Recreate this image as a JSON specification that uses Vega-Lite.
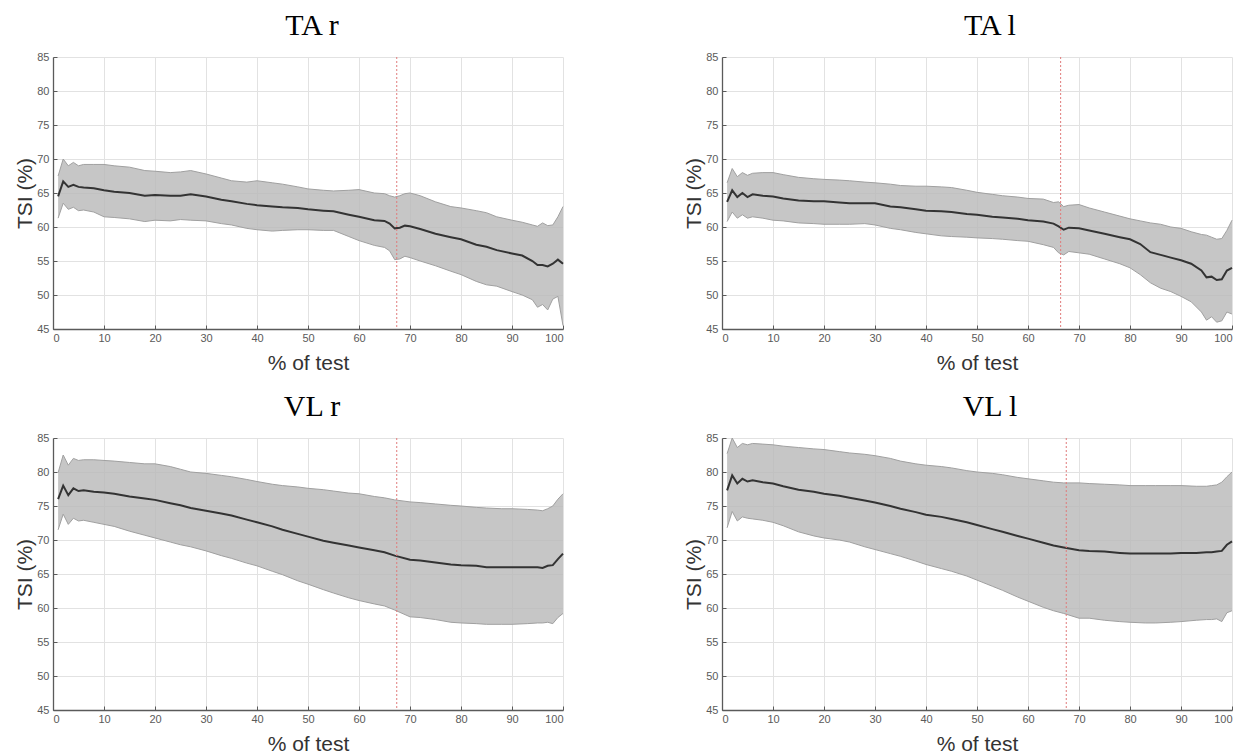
{
  "$schema": "https://vega.github.io/schema/vega-lite/v6.json",
  "background": "white",
  "padding": {"left": 14, "top": 11, "right": 5, "bottom": 5},
  "datasets": {
    "ta_r": [
      {"x":1,"m":64.5,"lo":61.3,"hi":67.5},{"x":2,"m":66.7,"lo":63.5,"hi":70.0},{"x":3,"m":65.9,"lo":62.6,"hi":69.0},{"x":4,"m":66.2,"lo":62.9,"hi":69.5},{"x":5,"m":65.9,"lo":62.4,"hi":69.0},{"x":6,"m":65.8,"lo":62.5,"hi":69.2},{"x":8,"m":65.7,"lo":62.2,"hi":69.2},{"x":10,"m":65.4,"lo":61.5,"hi":69.2},{"x":12,"m":65.2,"lo":61.4,"hi":69.0},{"x":15,"m":65.0,"lo":61.2,"hi":68.8},{"x":18,"m":64.6,"lo":60.8,"hi":68.3},{"x":20,"m":64.7,"lo":61.0,"hi":68.2},{"x":23,"m":64.6,"lo":60.9,"hi":68.0},{"x":25,"m":64.6,"lo":61.1,"hi":68.1},{"x":27,"m":64.8,"lo":61.0,"hi":68.3},{"x":30,"m":64.5,"lo":60.9,"hi":67.8},{"x":33,"m":64.0,"lo":60.5,"hi":67.2},{"x":35,"m":63.8,"lo":60.3,"hi":66.8},{"x":38,"m":63.4,"lo":59.8,"hi":66.6},{"x":40,"m":63.2,"lo":59.6,"hi":66.8},{"x":43,"m":63.0,"lo":59.4,"hi":66.5},{"x":45,"m":62.9,"lo":59.5,"hi":66.3},{"x":48,"m":62.8,"lo":59.6,"hi":65.9},{"x":50,"m":62.6,"lo":59.6,"hi":65.6},{"x":53,"m":62.4,"lo":59.5,"hi":65.4},{"x":55,"m":62.3,"lo":59.5,"hi":65.3},{"x":58,"m":61.8,"lo":58.6,"hi":65.4},{"x":60,"m":61.5,"lo":58.0,"hi":65.5},{"x":63,"m":61.0,"lo":57.3,"hi":65.0},{"x":65,"m":60.9,"lo":57.0,"hi":64.9},{"x":66,"m":60.5,"lo":56.5,"hi":64.6},{"x":67,"m":59.8,"lo":55.2,"hi":64.4},{"x":68,"m":59.9,"lo":55.3,"hi":64.6},{"x":69,"m":60.2,"lo":55.7,"hi":64.9},{"x":70,"m":60.1,"lo":55.5,"hi":65.0},{"x":72,"m":59.7,"lo":55.0,"hi":64.6},{"x":75,"m":59.0,"lo":54.3,"hi":63.7},{"x":78,"m":58.5,"lo":53.5,"hi":63.0},{"x":80,"m":58.2,"lo":53.0,"hi":62.8},{"x":83,"m":57.4,"lo":52.0,"hi":62.4},{"x":85,"m":57.1,"lo":51.5,"hi":62.1},{"x":87,"m":56.6,"lo":51.3,"hi":61.5},{"x":90,"m":56.1,"lo":50.5,"hi":61.0},{"x":92,"m":55.8,"lo":50.0,"hi":60.7},{"x":94,"m":55.0,"lo":49.3,"hi":60.3},{"x":95,"m":54.4,"lo":48.2,"hi":60.1},{"x":96,"m":54.4,"lo":48.6,"hi":60.6},{"x":97,"m":54.2,"lo":47.8,"hi":60.2},{"x":98,"m":54.6,"lo":49.4,"hi":60.3},{"x":99,"m":55.2,"lo":49.8,"hi":61.5},{"x":100,"m":54.6,"lo":45.5,"hi":63.0}
    ],
    "ta_l": [
      {"x":1,"m":63.7,"lo":60.8,"hi":66.5},{"x":2,"m":65.4,"lo":62.2,"hi":68.6},{"x":3,"m":64.4,"lo":61.3,"hi":67.4},{"x":4,"m":65.0,"lo":61.8,"hi":68.0},{"x":5,"m":64.4,"lo":61.3,"hi":67.6},{"x":6,"m":64.8,"lo":61.5,"hi":67.9},{"x":8,"m":64.6,"lo":61.3,"hi":68.0},{"x":10,"m":64.5,"lo":61.0,"hi":68.0},{"x":12,"m":64.2,"lo":60.9,"hi":67.7},{"x":15,"m":63.9,"lo":60.6,"hi":67.3},{"x":18,"m":63.8,"lo":60.5,"hi":67.1},{"x":20,"m":63.8,"lo":60.4,"hi":67.0},{"x":23,"m":63.6,"lo":60.4,"hi":66.9},{"x":25,"m":63.5,"lo":60.4,"hi":66.8},{"x":28,"m":63.5,"lo":60.5,"hi":66.6},{"x":30,"m":63.5,"lo":60.3,"hi":66.5},{"x":33,"m":63.0,"lo":59.8,"hi":66.3},{"x":35,"m":62.9,"lo":59.6,"hi":66.1},{"x":38,"m":62.6,"lo":59.2,"hi":66.0},{"x":40,"m":62.4,"lo":59.0,"hi":66.0},{"x":43,"m":62.3,"lo":58.7,"hi":65.9},{"x":45,"m":62.2,"lo":58.6,"hi":65.8},{"x":48,"m":61.9,"lo":58.5,"hi":65.4},{"x":50,"m":61.8,"lo":58.4,"hi":65.1},{"x":53,"m":61.5,"lo":58.3,"hi":64.8},{"x":55,"m":61.4,"lo":58.2,"hi":64.6},{"x":58,"m":61.2,"lo":58.0,"hi":64.4},{"x":60,"m":61.0,"lo":57.9,"hi":64.2},{"x":63,"m":60.8,"lo":57.4,"hi":64.1},{"x":65,"m":60.5,"lo":57.0,"hi":63.6},{"x":66,"m":60.1,"lo":56.2,"hi":63.7},{"x":67,"m":59.6,"lo":55.9,"hi":63.0},{"x":68,"m":59.9,"lo":56.4,"hi":63.2},{"x":70,"m":59.8,"lo":56.2,"hi":63.3},{"x":72,"m":59.5,"lo":56.0,"hi":62.8},{"x":75,"m":59.0,"lo":55.3,"hi":62.2},{"x":78,"m":58.5,"lo":54.6,"hi":61.6},{"x":80,"m":58.2,"lo":54.0,"hi":61.2},{"x":82,"m":57.5,"lo":53.0,"hi":60.9},{"x":84,"m":56.3,"lo":51.8,"hi":60.6},{"x":86,"m":55.9,"lo":51.0,"hi":60.4},{"x":88,"m":55.5,"lo":50.5,"hi":60.0},{"x":90,"m":55.1,"lo":49.8,"hi":59.8},{"x":92,"m":54.6,"lo":49.0,"hi":59.3},{"x":94,"m":53.6,"lo":47.5,"hi":58.9},{"x":95,"m":52.6,"lo":46.3,"hi":58.8},{"x":96,"m":52.7,"lo":46.8,"hi":58.5},{"x":97,"m":52.2,"lo":46.0,"hi":58.2},{"x":98,"m":52.3,"lo":46.2,"hi":58.3},{"x":99,"m":53.6,"lo":47.5,"hi":59.5},{"x":100,"m":54.0,"lo":47.2,"hi":61.0}
    ],
    "vl_r": [
      {"x":1,"m":76.0,"lo":71.5,"hi":79.9},{"x":2,"m":78.0,"lo":73.8,"hi":82.5},{"x":3,"m":76.6,"lo":72.3,"hi":81.0},{"x":4,"m":77.6,"lo":73.2,"hi":82.0},{"x":5,"m":77.2,"lo":72.8,"hi":81.7},{"x":6,"m":77.3,"lo":72.9,"hi":81.8},{"x":8,"m":77.1,"lo":72.6,"hi":81.8},{"x":10,"m":77.0,"lo":72.3,"hi":81.7},{"x":12,"m":76.8,"lo":72.0,"hi":81.6},{"x":15,"m":76.4,"lo":71.3,"hi":81.4},{"x":18,"m":76.1,"lo":70.7,"hi":81.2},{"x":20,"m":75.9,"lo":70.3,"hi":81.2},{"x":23,"m":75.4,"lo":69.7,"hi":80.8},{"x":25,"m":75.1,"lo":69.3,"hi":80.4},{"x":27,"m":74.7,"lo":69.0,"hi":80.0},{"x":30,"m":74.3,"lo":68.4,"hi":79.8},{"x":33,"m":73.9,"lo":67.7,"hi":79.5},{"x":35,"m":73.6,"lo":67.3,"hi":79.3},{"x":38,"m":73.0,"lo":66.6,"hi":78.9},{"x":40,"m":72.6,"lo":66.2,"hi":78.6},{"x":43,"m":72.0,"lo":65.4,"hi":78.2},{"x":45,"m":71.5,"lo":64.9,"hi":78.0},{"x":48,"m":70.9,"lo":64.0,"hi":77.8},{"x":50,"m":70.5,"lo":63.5,"hi":77.6},{"x":53,"m":69.9,"lo":62.7,"hi":77.4},{"x":55,"m":69.6,"lo":62.2,"hi":77.2},{"x":58,"m":69.2,"lo":61.5,"hi":76.9},{"x":60,"m":68.9,"lo":61.1,"hi":76.8},{"x":63,"m":68.5,"lo":60.6,"hi":76.4},{"x":65,"m":68.2,"lo":60.3,"hi":76.2},{"x":67,"m":67.7,"lo":59.7,"hi":75.9},{"x":70,"m":67.1,"lo":58.7,"hi":75.6},{"x":72,"m":67.0,"lo":58.6,"hi":75.5},{"x":75,"m":66.7,"lo":58.3,"hi":75.3},{"x":78,"m":66.4,"lo":57.9,"hi":75.1},{"x":80,"m":66.3,"lo":57.8,"hi":75.0},{"x":83,"m":66.2,"lo":57.7,"hi":74.8},{"x":85,"m":66.0,"lo":57.6,"hi":74.7},{"x":88,"m":66.0,"lo":57.6,"hi":74.6},{"x":90,"m":66.0,"lo":57.6,"hi":74.6},{"x":93,"m":66.0,"lo":57.7,"hi":74.5},{"x":95,"m":66.0,"lo":57.8,"hi":74.4},{"x":96,"m":65.9,"lo":57.8,"hi":74.3},{"x":97,"m":66.2,"lo":57.9,"hi":74.6},{"x":98,"m":66.3,"lo":57.7,"hi":75.0},{"x":99,"m":67.2,"lo":58.6,"hi":76.0},{"x":100,"m":68.0,"lo":59.2,"hi":76.8}
    ],
    "vl_l": [
      {"x":1,"m":77.3,"lo":71.8,"hi":82.7},{"x":2,"m":79.5,"lo":74.2,"hi":85.0},{"x":3,"m":78.3,"lo":72.8,"hi":83.6},{"x":4,"m":79.0,"lo":73.4,"hi":84.2},{"x":5,"m":78.6,"lo":73.2,"hi":84.0},{"x":6,"m":78.8,"lo":73.1,"hi":84.2},{"x":8,"m":78.5,"lo":72.9,"hi":84.1},{"x":10,"m":78.3,"lo":72.6,"hi":84.0},{"x":12,"m":77.9,"lo":72.1,"hi":83.8},{"x":15,"m":77.4,"lo":71.2,"hi":83.6},{"x":18,"m":77.1,"lo":70.6,"hi":83.4},{"x":20,"m":76.8,"lo":70.3,"hi":83.3},{"x":23,"m":76.5,"lo":70.0,"hi":83.0},{"x":25,"m":76.2,"lo":69.7,"hi":82.8},{"x":28,"m":75.8,"lo":69.0,"hi":82.6},{"x":30,"m":75.5,"lo":68.6,"hi":82.4},{"x":33,"m":75.0,"lo":68.0,"hi":82.0},{"x":35,"m":74.6,"lo":67.6,"hi":81.6},{"x":38,"m":74.1,"lo":66.9,"hi":81.2},{"x":40,"m":73.7,"lo":66.4,"hi":81.0},{"x":43,"m":73.4,"lo":65.8,"hi":80.8},{"x":45,"m":73.1,"lo":65.4,"hi":80.6},{"x":48,"m":72.6,"lo":64.7,"hi":80.2},{"x":50,"m":72.2,"lo":64.1,"hi":80.0},{"x":53,"m":71.6,"lo":63.2,"hi":79.8},{"x":55,"m":71.2,"lo":62.6,"hi":79.6},{"x":58,"m":70.6,"lo":61.6,"hi":79.2},{"x":60,"m":70.2,"lo":61.0,"hi":79.0},{"x":63,"m":69.6,"lo":60.1,"hi":78.7},{"x":65,"m":69.2,"lo":59.6,"hi":78.5},{"x":67,"m":68.9,"lo":59.2,"hi":78.4},{"x":70,"m":68.5,"lo":58.5,"hi":78.4},{"x":72,"m":68.4,"lo":58.5,"hi":78.3},{"x":75,"m":68.3,"lo":58.2,"hi":78.2},{"x":78,"m":68.1,"lo":58.0,"hi":78.1},{"x":80,"m":68.0,"lo":57.9,"hi":78.0},{"x":83,"m":68.0,"lo":57.8,"hi":78.0},{"x":85,"m":68.0,"lo":57.8,"hi":78.0},{"x":88,"m":68.0,"lo":57.9,"hi":78.0},{"x":90,"m":68.1,"lo":58.0,"hi":78.0},{"x":93,"m":68.1,"lo":58.2,"hi":77.9},{"x":95,"m":68.2,"lo":58.3,"hi":77.9},{"x":96,"m":68.2,"lo":58.3,"hi":78.0},{"x":97,"m":68.3,"lo":58.4,"hi":78.1},{"x":98,"m":68.4,"lo":58.0,"hi":78.5},{"x":99,"m":69.3,"lo":59.3,"hi":79.3},{"x":100,"m":69.8,"lo":59.6,"hi":80.0}
    ]
  },
  "config": {
    "view": {"stroke": null},
    "axis": {
      "grid": true, "gridColor": "#e2e2e2", "gridWidth": 1,
      "domainColor": "#5a5a5a", "domainWidth": 1.3,
      "tickColor": "#5a5a5a", "tickSize": -4, "tickWidth": 1,
      "labelColor": "#5a5a5a", "labelFont": "Liberation Sans", "labelFontSize": 11, "labelOverlap": false,
      "titleFont": "Liberation Sans", "titleFontSize": 21, "titleFontWeight": "normal", "titleColor": "#333333"
    },
    "axisX": {"titlePadding": 9, "labelPadding": 7},
    "axisY": {"titlePadding": 1, "labelPadding": 8},
    "title": {"font": "Liberation Serif", "fontSize": 30, "fontWeight": "normal", "color": "#000000", "baseline": "alphabetic", "frame": "group", "offset": 10}
  },
  "vconcat": [
    {
      "hconcat": [
        {
          "title": {"text": "TA r", "dx": 4},
          "width": 510, "height": 272,
          "data": {"name": "ta_r"},
          "encoding": {"x": {"field": "x", "type": "quantitative", "title": "% of test", "scale": {"domain": [0, 100], "nice": false, "zero": false}, "axis": {"values": [0,10,20,30,40,50,60,70,80,90,100]}}},
          "layer": [
            {"mark": {"type": "area", "color": "#b9b9b9", "opacity": 0.82}, "encoding": {"y": {"field": "lo", "type": "quantitative", "title": "TSI (%)", "scale": {"domain": [45, 85], "nice": false, "zero": false}, "axis": {"values": [45,50,55,60,65,70,75,80,85]}}, "y2": {"field": "hi"}}},
            {"mark": {"type": "line", "color": "#a0a0a0", "strokeWidth": 1}, "encoding": {"y": {"field": "hi", "type": "quantitative", "title": "TSI (%)", "axis": {"values": [45,50,55,60,65,70,75,80,85]}}}},
            {"mark": {"type": "line", "color": "#a0a0a0", "strokeWidth": 1}, "encoding": {"y": {"field": "lo", "type": "quantitative", "title": "TSI (%)", "axis": {"values": [45,50,55,60,65,70,75,80,85]}}}},
            {"mark": {"type": "line", "color": "#333333", "strokeWidth": 2}, "encoding": {"y": {"field": "m", "type": "quantitative", "title": "TSI (%)", "axis": {"values": [45,50,55,60,65,70,75,80,85]}}}},
            {"data": {"values": [{"x": 67.4}]}, "mark": {"type": "rule", "color": "#e07b7b", "strokeDash": [2, 2], "strokeWidth": 1}, "encoding": {}}
          ]
        },
        {
          "title": {"text": "TA l", "dx": 13},
          "width": 510, "height": 272,
          "data": {"name": "ta_l"},
          "encoding": {"x": {"field": "x", "type": "quantitative", "title": "% of test", "scale": {"domain": [0, 100], "nice": false, "zero": false}, "axis": {"values": [0,10,20,30,40,50,60,70,80,90,100]}}},
          "layer": [
            {"mark": {"type": "area", "color": "#b9b9b9", "opacity": 0.82}, "encoding": {"y": {"field": "lo", "type": "quantitative", "title": "TSI (%)", "scale": {"domain": [45, 85], "nice": false, "zero": false}, "axis": {"values": [45,50,55,60,65,70,75,80,85]}}, "y2": {"field": "hi"}}},
            {"mark": {"type": "line", "color": "#a0a0a0", "strokeWidth": 1}, "encoding": {"y": {"field": "hi", "type": "quantitative", "title": "TSI (%)", "axis": {"values": [45,50,55,60,65,70,75,80,85]}}}},
            {"mark": {"type": "line", "color": "#a0a0a0", "strokeWidth": 1}, "encoding": {"y": {"field": "lo", "type": "quantitative", "title": "TSI (%)", "axis": {"values": [45,50,55,60,65,70,75,80,85]}}}},
            {"mark": {"type": "line", "color": "#333333", "strokeWidth": 2}, "encoding": {"y": {"field": "m", "type": "quantitative", "title": "TSI (%)", "axis": {"values": [45,50,55,60,65,70,75,80,85]}}}},
            {"data": {"values": [{"x": 66.4}]}, "mark": {"type": "rule", "color": "#e07b7b", "strokeDash": [2, 2], "strokeWidth": 1}, "encoding": {}}
          ]
        }
      ],
      "spacing": 116
    },
    {
      "hconcat": [
        {
          "title": {"text": "VL r", "dx": 4},
          "width": 510, "height": 272,
          "data": {"name": "vl_r"},
          "encoding": {"x": {"field": "x", "type": "quantitative", "title": "% of test", "scale": {"domain": [0, 100], "nice": false, "zero": false}, "axis": {"values": [0,10,20,30,40,50,60,70,80,90,100]}}},
          "layer": [
            {"mark": {"type": "area", "color": "#b9b9b9", "opacity": 0.82}, "encoding": {"y": {"field": "lo", "type": "quantitative", "title": "TSI (%)", "scale": {"domain": [45, 85], "nice": false, "zero": false}, "axis": {"values": [45,50,55,60,65,70,75,80,85]}}, "y2": {"field": "hi"}}},
            {"mark": {"type": "line", "color": "#a0a0a0", "strokeWidth": 1}, "encoding": {"y": {"field": "hi", "type": "quantitative", "title": "TSI (%)", "axis": {"values": [45,50,55,60,65,70,75,80,85]}}}},
            {"mark": {"type": "line", "color": "#a0a0a0", "strokeWidth": 1}, "encoding": {"y": {"field": "lo", "type": "quantitative", "title": "TSI (%)", "axis": {"values": [45,50,55,60,65,70,75,80,85]}}}},
            {"mark": {"type": "line", "color": "#333333", "strokeWidth": 2}, "encoding": {"y": {"field": "m", "type": "quantitative", "title": "TSI (%)", "axis": {"values": [45,50,55,60,65,70,75,80,85]}}}},
            {"data": {"values": [{"x": 67.4}]}, "mark": {"type": "rule", "color": "#e07b7b", "strokeDash": [2, 2], "strokeWidth": 1}, "encoding": {}}
          ]
        },
        {
          "title": {"text": "VL l", "dx": 13},
          "width": 510, "height": 272,
          "data": {"name": "vl_l"},
          "encoding": {"x": {"field": "x", "type": "quantitative", "title": "% of test", "scale": {"domain": [0, 100], "nice": false, "zero": false}, "axis": {"values": [0,10,20,30,40,50,60,70,80,90,100]}}},
          "layer": [
            {"mark": {"type": "area", "color": "#b9b9b9", "opacity": 0.82}, "encoding": {"y": {"field": "lo", "type": "quantitative", "title": "TSI (%)", "scale": {"domain": [45, 85], "nice": false, "zero": false}, "axis": {"values": [45,50,55,60,65,70,75,80,85]}}, "y2": {"field": "hi"}}},
            {"mark": {"type": "line", "color": "#a0a0a0", "strokeWidth": 1}, "encoding": {"y": {"field": "hi", "type": "quantitative", "title": "TSI (%)", "axis": {"values": [45,50,55,60,65,70,75,80,85]}}}},
            {"mark": {"type": "line", "color": "#a0a0a0", "strokeWidth": 1}, "encoding": {"y": {"field": "lo", "type": "quantitative", "title": "TSI (%)", "axis": {"values": [45,50,55,60,65,70,75,80,85]}}}},
            {"mark": {"type": "line", "color": "#333333", "strokeWidth": 2}, "encoding": {"y": {"field": "m", "type": "quantitative", "title": "TSI (%)", "axis": {"values": [45,50,55,60,65,70,75,80,85]}}}},
            {"data": {"values": [{"x": 67.5}]}, "mark": {"type": "rule", "color": "#e07b7b", "strokeDash": [2, 2], "strokeWidth": 1}, "encoding": {}}
          ]
        }
      ],
      "spacing": 116
    }
  ],
  "spacing": 19
}
